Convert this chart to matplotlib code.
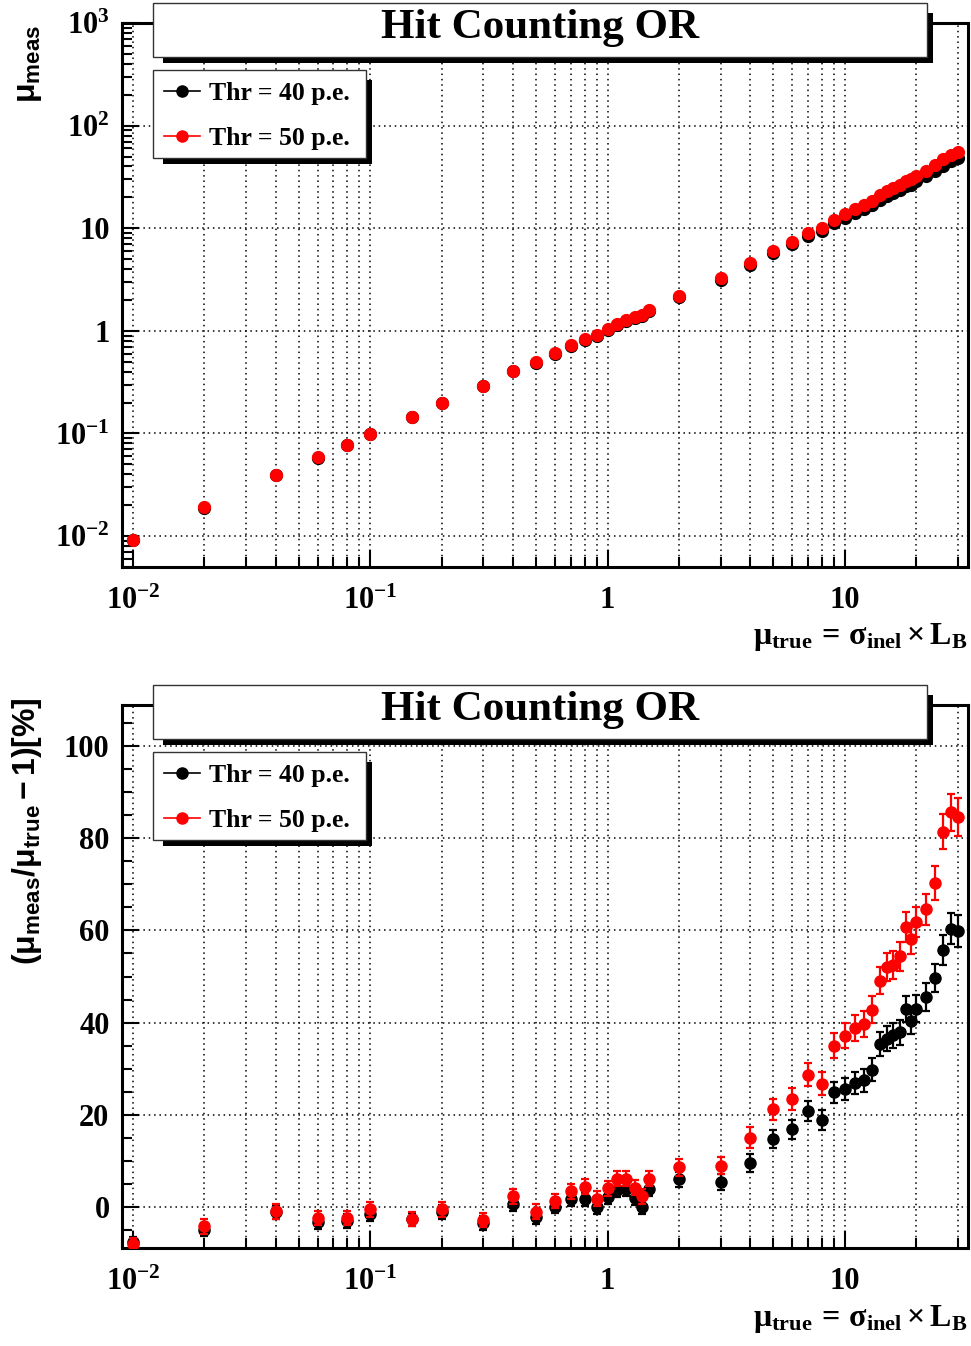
import numpy as np
import matplotlib
matplotlib.use('Agg')
import matplotlib.pyplot as plt
from matplotlib.patches import Rectangle
from matplotlib.lines import Line2D
from matplotlib.ticker import FixedLocator, FixedFormatter, LogLocator, MultipleLocator, NullFormatter

plt.rcParams['font.family'] = ['Liberation Serif', 'DejaVu Serif']
plt.rcParams['font.weight'] = 'bold'
plt.rcParams['mathtext.fontset'] = 'custom'
plt.rcParams['mathtext.rm'] = 'Liberation Serif'
plt.rcParams['mathtext.bf'] = 'Liberation Serif:bold'
plt.rcParams['mathtext.it'] = 'Liberation Serif:italic'
plt.rcParams['mathtext.sf'] = 'Liberation Sans:bold'

# ---- data ----
mu_true = [0.01, 0.02, 0.04, 0.06, 0.08, 0.1, 0.15, 0.2, 0.3, 0.4, 0.5, 0.6, 0.7, 0.8, 0.9,
           1.0, 1.1, 1.2, 1.3, 1.4, 1.5, 2, 3, 4, 5, 6, 7, 8, 9, 10, 11, 12, 13, 14, 15,
           16, 17, 18, 19, 20, 22, 24, 26, 28, 30]

# relative deviation mu_meas/mu_true - 1 in %
dev_40 = [-7.8, -5.0, -1.2, -3.4, -3.1, -1.6, -2.8, -1.2, -3.5, 0.6, -2.2, 0.0, 1.7, 1.7, -0.1,
          2.0, 3.6, 3.8, 1.8, -0.1, 3.8, 5.9, 5.4, 9.5, 14.7, 16.8, 20.7, 18.8, 24.8, 25.6,
          26.9, 27.4, 29.7, 35.4, 36.5, 37.2, 37.9, 43.0, 40.4, 43.0, 45.5, 49.7, 55.7, 60.4, 59.9]
dev_50 = [-8.2, -4.3, -1.0, -2.5, -2.5, -0.6, -2.7, -0.6, -2.9, 2.2, -1.1, 1.2, 3.3, 4.3, 1.7,
          4.0, 6.1, 6.1, 4.1, 2.2, 6.1, 8.5, 8.9, 15.0, 21.1, 23.4, 28.6, 26.7, 35.0, 37.1,
          38.8, 39.7, 42.8, 49.1, 52.1, 52.5, 54.4, 60.8, 58.1, 61.8, 64.6, 70.3, 81.5, 85.7, 84.6]
err_40 = [1.2, 1.5, 1.5, 1.5, 1.5, 1.5, 1.5, 1.5, 1.5, 1.5, 1.5, 1.5, 1.5, 1.5, 1.5,
          1.5, 1.5, 1.5, 1.5, 1.5, 1.5, 1.7, 1.7, 1.9, 2.0, 2.1, 2.2, 2.2, 2.3, 2.4,
          2.4, 2.5, 2.5, 2.6, 2.7, 2.7, 2.7, 2.8, 2.8, 2.9, 3.0, 3.1, 3.3, 3.4, 3.5]
err_50 = [1.3, 1.6, 1.6, 1.6, 1.6, 1.6, 1.6, 1.6, 1.6, 1.6, 1.6, 1.6, 1.6, 1.6, 1.6,
          1.6, 1.6, 1.6, 1.6, 1.6, 1.6, 1.8, 1.9, 2.2, 2.3, 2.4, 2.5, 2.5, 2.7, 2.7,
          2.8, 2.8, 2.9, 3.0, 3.1, 3.1, 3.1, 3.2, 3.2, 3.3, 3.4, 3.7, 3.9, 4.0, 4.1]

series_labels = ['Thr = 40 p.e.', 'Thr = 50 p.e.']
series_colors = ['black', 'red']
title = 'Hit Counting OR'

xtick_vals = [0.01, 0.1, 1, 10]
xtick_labels = [r'$\mathbf{10^{-2}}$', r'$\mathbf{10^{-1}}$', '1', '10']
ytick_vals_top = [0.01, 0.1, 1, 10, 100, 1000]
ytick_labels_top = [r'$\mathbf{10^{-2}}$', r'$\mathbf{10^{-1}}$', '1', '10',
                    r'$\mathbf{10^{2}}$', r'$\mathbf{10^{3}}$']

xlabel = r'$\mathrm{\mu}_{\mathbf{true}}\,=\,\mathrm{\sigma}_{\mathbf{inel}}\times\mathbf{L}_{\mathbf{B}}$'
ylabel_top = r'$\mathsf{\mu_{meas}}$'
ylabel_bot = r'$\mathsf{(\mu_{meas}/\mu_{true} - 1)[\%]}$'

mu_true_a = np.array(mu_true)
mu_meas_40 = mu_true_a * (1 + np.array(dev_40) / 100.)
mu_meas_50 = mu_true_a * (1 + np.array(dev_50) / 100.)

W, H = 971, 1346
fig = plt.figure(figsize=(W / 100., H / 100.), dpi=100)

def fx(px):
    return px / W

def fy(py):
    return 1 - py / H

ax1 = fig.add_axes([fx(122), fy(567), fx(968) - fx(122), fy(23) - fy(567)])
ax2 = fig.add_axes([fx(122), fy(1248), fx(968) - fx(122), fy(705) - fy(1248)])

dotted = (0, (1, 2.5))

def setup(ax):
    ax.set_xscale('log')
    ax.set_xlim(0.009, 33)
    for s in ax.spines.values():
        s.set_linewidth(2.2)
    ax.tick_params(which='both', direction='in', top=False, right=False, labelsize=22, width=1.5)
    ax.tick_params(which='major', length=12)
    ax.tick_params(which='minor', length=7)
    ax.tick_params(axis='x', pad=14)
    ax.tick_params(axis='y', pad=9)
    ax.xaxis.set_major_locator(FixedLocator(xtick_vals))
    ax.xaxis.set_major_formatter(FixedFormatter(xtick_labels))
    ax.xaxis.set_minor_locator(LogLocator(base=10, subs=np.arange(2, 10), numticks=20))
    ax.xaxis.set_minor_formatter(NullFormatter())
    ax.grid(True, which='both', axis='x', ls=dotted, color='k', lw=1.1)
    ax.grid(True, which='major', axis='y', ls=dotted, color='k', lw=1.1)
    ax.set_axisbelow(True)

# top panel: mu_meas vs mu_true
setup(ax1)
ax1.set_yscale('log')
ax1.set_ylim(0.005, 1000)
ax1.yaxis.set_major_locator(FixedLocator(ytick_vals_top))
ax1.yaxis.set_major_formatter(FixedFormatter(ytick_labels_top))
ax1.yaxis.set_minor_locator(LogLocator(base=10, subs=np.arange(2, 10), numticks=20))
ax1.yaxis.set_minor_formatter(NullFormatter())
ax1.plot(mu_true, mu_meas_40, 'o', color=series_colors[0], ms=8.5, zorder=3)
ax1.plot(mu_true, mu_meas_50, 'o', color=series_colors[1], ms=8.5, zorder=4)

# bottom panel: relative deviation
setup(ax2)
ax2.set_ylim(-9, 109)
ax2.yaxis.set_major_locator(MultipleLocator(20))
ax2.yaxis.set_minor_locator(MultipleLocator(5))
ax2.errorbar(mu_true, dev_40, yerr=err_40, fmt='o', color=series_colors[0], ms=8,
             elinewidth=1.6, capsize=3, capthick=1.6, zorder=3)
ax2.errorbar(mu_true, dev_50, yerr=err_50, fmt='o', color=series_colors[1], ms=8,
             elinewidth=1.6, capsize=3, capthick=1.6, zorder=4)

# title boxes and legends with ROOT-like shadows
def shadow_box(x0, y0, x1, y1):
    fig.add_artist(Rectangle((fx(x0 + 10), fy(y1 + 6)), fx(x1 + 6) - fx(x0 + 10), fy(y0 + 10) - fy(y1 + 6),
                             transform=fig.transFigure, facecolor='black', edgecolor='none', zorder=5))
    fig.add_artist(Rectangle((fx(x0), fy(y1)), fx(x1) - fx(x0), fy(y0) - fy(y1),
                             transform=fig.transFigure, facecolor='white', edgecolor='#333333',
                             lw=1.0, zorder=6))

handles = [Line2D([], [], color=c, marker='o', ms=8, lw=1.2) for c in series_colors]

for off in [0, 682]:
    shadow_box(153, 3 + off, 927, 57 + off)
    fig.text(fx(540), fy(28 + off), title, ha='center', va='center', fontsize=31,
             fontweight='bold', zorder=7)
    shadow_box(153, 70 + off, 366, 158 + off)
    leg = fig.legend(handles, series_labels, loc='upper left',
                     bbox_to_anchor=(fx(164), fy(82 + off)), frameon=False, fontsize=18.5,
                     handlelength=1.4, handletextpad=0.35, labelspacing=0.85,
                     borderpad=0, borderaxespad=0)
    leg.set_zorder(7)
    fig.text(fx(968), fy(637 + off), xlabel, ha='right', va='center', fontsize=23)

fig.text(fx(29), fy(25), ylabel_top, rotation=90, ha='center', va='top', fontsize=23)
fig.text(fx(27), fy(697), ylabel_bot, rotation=90, ha='center', va='top', fontsize=23)

fig.savefig('out.png', dpi=100)
